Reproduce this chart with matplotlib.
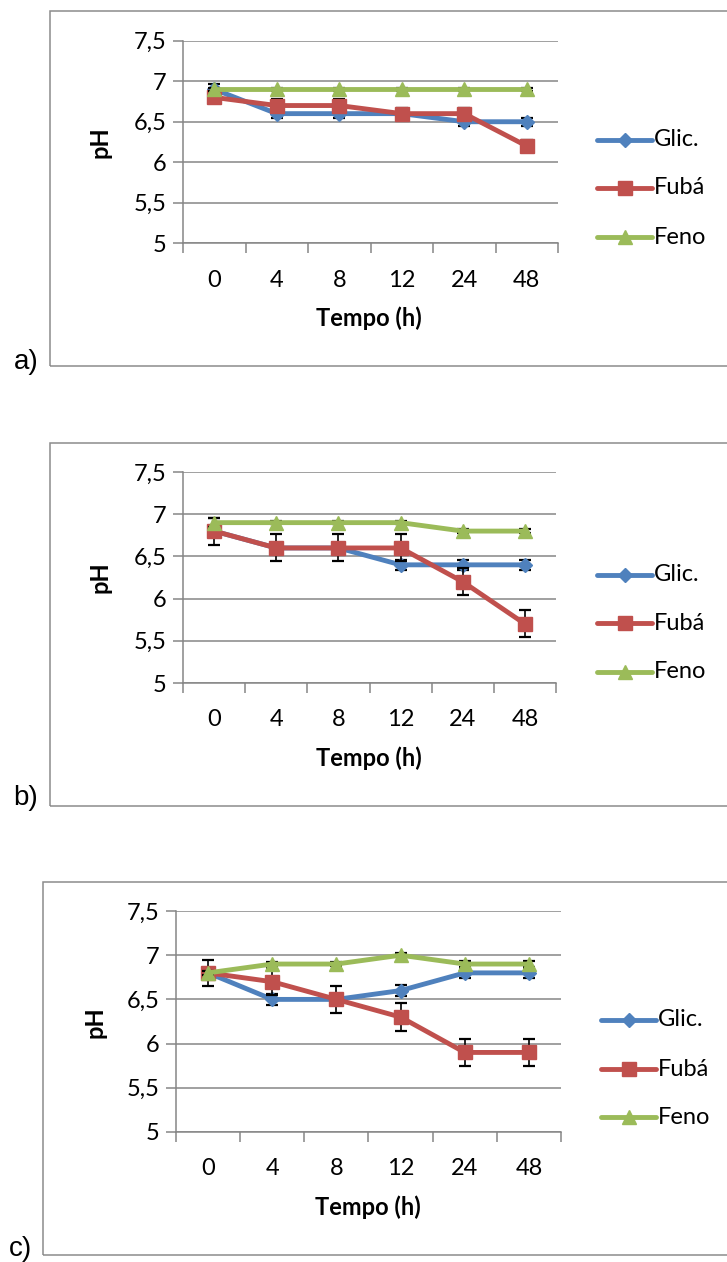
import matplotlib.pyplot as plt
from matplotlib.patches import Rectangle
from matplotlib.lines import Line2D

# data
times = ['0', '4', '8', '12', '24', '48']
series_names = ['Glic.', 'Fubá', 'Feno']
y_ticks = [5, 5.5, 6, 6.5, 7, 7.5]
y_tick_labels = ['5', '5,5', '6', '6,5', '7', '7,5']

a_glic = [6.9, 6.6, 6.6, 6.6, 6.5, 6.5]
a_glic_err = [0.06, 0.05, 0.05, 0.05, 0.05, 0.05]
a_fuba = [6.8, 6.7, 6.7, 6.6, 6.6, 6.2]
a_fuba_err = [0.07, 0.08, 0.08, 0.07, 0.07, 0.07]
a_feno = [6.9, 6.9, 6.9, 6.9, 6.9, 6.9]
a_feno_err = [0.02, 0.02, 0.02, 0.02, 0.02, 0.02]

b_glic = [6.8, 6.6, 6.6, 6.4, 6.4, 6.4]
b_glic_err = [0.06, 0.06, 0.06, 0.06, 0.06, 0.06]
b_fuba = [6.8, 6.6, 6.6, 6.6, 6.2, 5.7]
b_fuba_err = [0.16, 0.16, 0.16, 0.16, 0.16, 0.16]
b_feno = [6.9, 6.9, 6.9, 6.9, 6.8, 6.8]
b_feno_err = [0.05, 0.02, 0.02, 0.02, 0.02, 0.02]

c_glic = [6.8, 6.5, 6.5, 6.6, 6.8, 6.8]
c_glic_err = [0.05, 0.06, 0.05, 0.06, 0.06, 0.06]
c_fuba = [6.8, 6.7, 6.5, 6.3, 5.9, 5.9]
c_fuba_err = [0.15, 0.15, 0.15, 0.16, 0.15, 0.15]
c_feno = [6.8, 6.9, 6.9, 7.0, 6.9, 6.9]
c_feno_err = [0.02, 0.02, 0.02, 0.02, 0.03, 0.03]

W, H = 727, 1262
colors = ['#4F81BD', '#C0504D', '#9BBB59']
markers = ['D', 's', '^']
msizes = [7, 10, 9.5]
grid_col = '#868686'
font = ['Lato', 'DejaVu Sans']
fs = 17

fig = plt.figure(figsize=(W / 100, H / 100), dpi=100)


def fx(x):
    return x / W


def fy(y):
    return 1 - y / H


def panel(series, errs, axbox, frame, tag, tagpos, ph_pos, tempo_pos, legend_ys):
    left, right, top, bottom = axbox
    fleft, ftop, fbottom = frame
    fig.patches.append(Rectangle((fx(fleft), fy(fbottom)), fx(760 - fleft), (fbottom - ftop) / H,
                                 transform=fig.transFigure, fill=False, ec='#8c8c8c', lw=1.1, zorder=0))
    fig.text(fx(tagpos[0]), fy(tagpos[1]), tag, fontsize=20, family='Liberation Sans',
             ha='center', va='center')

    ax = fig.add_axes([fx(left), fy(bottom), fx(right - left), (bottom - top) / H])
    x = list(range(len(times)))
    for i in range(3):
        ax.errorbar(x, series[i], yerr=errs[i], color=colors[i], lw=3.5, marker=markers[i],
                    ms=msizes[i], ecolor='black', elinewidth=1.2, capsize=4.5, capthick=1.6,
                    zorder=3 + i)
    ax.set_xlim(-0.5, len(times) - 0.5)
    ax.set_ylim(5, 7.5)
    ax.set_yticks(y_ticks)
    ax.set_yticklabels(y_tick_labels, family=font, fontsize=fs)
    ax.set_xticks([i - 0.5 for i in range(len(times) + 1)])
    ax.set_xticklabels([])
    ax.set_xticks(x, minor=True)
    ax.set_xticklabels(times, minor=True, family=font, fontsize=fs)
    ax.tick_params(axis='x', which='major', length=7, color=grid_col, width=1.1, direction='out')
    ax.tick_params(axis='x', which='minor', length=0, pad=19)
    ax.tick_params(axis='y', length=7, color=grid_col, width=1.1, pad=5)
    for s in ['top', 'right']:
        ax.spines[s].set_visible(False)
    for s in ['left', 'bottom']:
        ax.spines[s].set_color(grid_col)
        ax.spines[s].set_linewidth(1.1)
    ax.grid(axis='y', color=grid_col, lw=1.1)
    ax.set_axisbelow(True)

    fig.text(fx(ph_pos[0]), fy(ph_pos[1]), 'pH', rotation=90, fontsize=fs, fontweight='bold',
             family=font, ha='center', va='center')
    fig.text(fx(tempo_pos[0]), fy(tempo_pos[1]), 'Tempo (h)', fontsize=fs, fontweight='bold',
             family=font, ha='center', va='center')

    # legend entries, drawn as in the reference
    for i in range(3):
        ly = legend_ys[i]
        fig.lines.append(Line2D([fx(legend_ys[3]), fx(legend_ys[3] + 55)], [fy(ly), fy(ly)],
                                transform=fig.transFigure, color=colors[i], lw=3.5,
                                solid_capstyle='round'))
        fig.lines.append(Line2D([fx(legend_ys[3] + 27.5)], [fy(ly)], transform=fig.transFigure,
                                color=colors[i], marker=markers[i], ms=msizes[i], lw=0))
        fig.text(fx(legend_ys[3] + 57), fy(ly), series_names[i], fontsize=fs, family=font,
                 ha='left', va='center')
    return ax


panel([a_glic, a_fuba, a_feno], [a_glic_err, a_fuba_err, a_feno_err],
      (183, 558, 40.7, 243.3), (50, 11, 366), 'a)', (26, 362), (100, 142), (369, 318),
      (140, 188, 237, 597))
panel([b_glic, b_fuba, b_feno], [b_glic_err, b_fuba_err, b_feno_err],
      (183, 556, 472, 683), (50, 443, 806), 'b)', (26, 798), (100, 577), (369, 758),
      (575, 623, 672, 597))
panel([c_glic, c_fuba, c_feno], [c_glic_err, c_fuba_err, c_feno_err],
      (176, 561, 911, 1132), (43, 882, 1255), 'c)', (20, 1249), (95, 1022), (368, 1207),
      (1020, 1069, 1117, 601))

fig.savefig('out.png', dpi=100)
